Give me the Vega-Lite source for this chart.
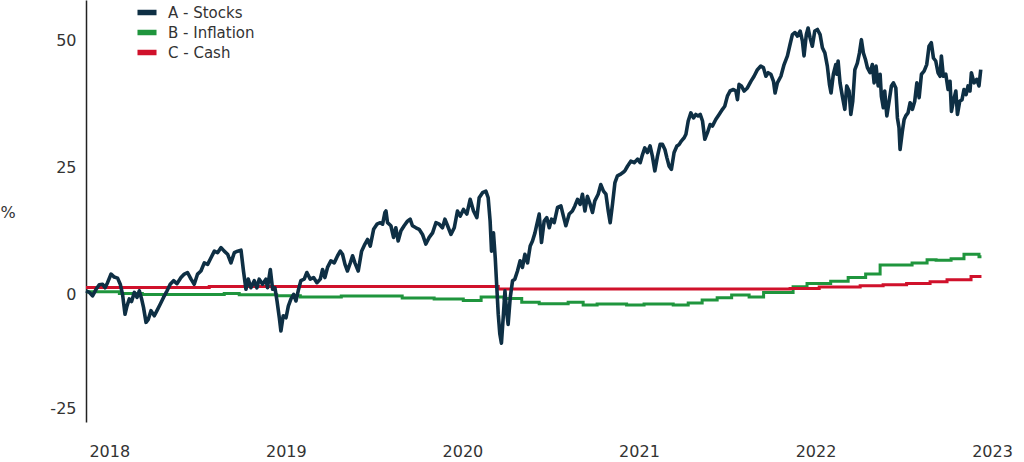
{
  "$schema": "https://vega.github.io/schema/vega-lite/v6.json",
  "width": 920,
  "height": 422,
  "autosize": "none",
  "padding": {"left": 86, "top": 0, "right": 18, "bottom": 40},
  "background": "white",
  "config": {
    "view": {"stroke": null},
    "font": "DejaVu Sans",
    "axis": {"labelFont": "DejaVu Sans", "labelColor": "#333333", "labelFontSize": 16, "titleFont": "DejaVu Sans", "titleColor": "#333333", "grid": false, "ticks": false, "tickSize": 0},
    "legend": {"rowPadding": -4}
  },
  "datasets": {
    "stocks": [
      {"year": 2017.868, "value": 0.8}, {"year": 2017.887, "value": 0.5}, {"year": 2017.905, "value": -0.2}, {"year": 2017.925, "value": 1.1},
      {"year": 2017.943, "value": 2.0}, {"year": 2017.962, "value": 2.1}, {"year": 2017.976, "value": 1.4}, {"year": 2017.990, "value": 2.4},
      {"year": 2018.010, "value": 4.1}, {"year": 2018.028, "value": 3.5}, {"year": 2018.047, "value": 3.3}, {"year": 2018.062, "value": 2.1},
      {"year": 2018.075, "value": 0.1}, {"year": 2018.089, "value": -3.8}, {"year": 2018.100, "value": -2.2}, {"year": 2018.113, "value": -0.8},
      {"year": 2018.126, "value": -1.3}, {"year": 2018.142, "value": 0.5}, {"year": 2018.157, "value": -0.5}, {"year": 2018.170, "value": 0.8},
      {"year": 2018.183, "value": -0.8}, {"year": 2018.194, "value": -2.5}, {"year": 2018.208, "value": -5.4}, {"year": 2018.221, "value": -4.8},
      {"year": 2018.236, "value": -3.1}, {"year": 2018.255, "value": -4.1}, {"year": 2018.270, "value": -3.1}, {"year": 2018.289, "value": -1.8},
      {"year": 2018.307, "value": -0.5}, {"year": 2018.327, "value": 0.8}, {"year": 2018.345, "value": 2.1}, {"year": 2018.364, "value": 2.8},
      {"year": 2018.383, "value": 2.2}, {"year": 2018.406, "value": 3.4}, {"year": 2018.425, "value": 4.1}, {"year": 2018.443, "value": 4.4},
      {"year": 2018.463, "value": 3.1}, {"year": 2018.481, "value": 2.1}, {"year": 2018.500, "value": 4.1}, {"year": 2018.519, "value": 4.7},
      {"year": 2018.538, "value": 6.3}, {"year": 2018.557, "value": 6.0}, {"year": 2018.576, "value": 7.3}, {"year": 2018.595, "value": 8.6},
      {"year": 2018.613, "value": 8.3}, {"year": 2018.633, "value": 9.3}, {"year": 2018.651, "value": 8.6}, {"year": 2018.670, "value": 8.0},
      {"year": 2018.689, "value": 6.3}, {"year": 2018.708, "value": 8.3}, {"year": 2018.727, "value": 8.6}, {"year": 2018.746, "value": 8.8},
      {"year": 2018.760, "value": 4.7}, {"year": 2018.774, "value": 1.1}, {"year": 2018.787, "value": 3.1}, {"year": 2018.802, "value": 1.4},
      {"year": 2018.821, "value": 2.8}, {"year": 2018.836, "value": 1.4}, {"year": 2018.849, "value": 3.1}, {"year": 2018.868, "value": 2.1},
      {"year": 2018.887, "value": 3.1}, {"year": 2018.896, "value": 1.4}, {"year": 2018.912, "value": 5.0}, {"year": 2018.925, "value": 1.1},
      {"year": 2018.938, "value": 1.4}, {"year": 2018.950, "value": -1.2}, {"year": 2018.963, "value": -4.5}, {"year": 2018.972, "value": -7.1},
      {"year": 2018.985, "value": -4.1}, {"year": 2019.001, "value": -4.5}, {"year": 2019.014, "value": -2.2}, {"year": 2019.029, "value": -0.8},
      {"year": 2019.044, "value": 0.1}, {"year": 2019.057, "value": -1.2}, {"year": 2019.070, "value": 0.8}, {"year": 2019.085, "value": 2.8},
      {"year": 2019.104, "value": 3.1}, {"year": 2019.119, "value": 4.4}, {"year": 2019.138, "value": 3.1}, {"year": 2019.157, "value": 3.4},
      {"year": 2019.176, "value": 2.4}, {"year": 2019.195, "value": 3.1}, {"year": 2019.208, "value": 5.0}, {"year": 2019.221, "value": 3.4},
      {"year": 2019.236, "value": 5.4}, {"year": 2019.255, "value": 6.7}, {"year": 2019.274, "value": 6.3}, {"year": 2019.293, "value": 7.7},
      {"year": 2019.308, "value": 8.6}, {"year": 2019.321, "value": 8.0}, {"year": 2019.335, "value": 6.0}, {"year": 2019.349, "value": 4.7},
      {"year": 2019.365, "value": 6.3}, {"year": 2019.378, "value": 7.7}, {"year": 2019.391, "value": 6.3}, {"year": 2019.410, "value": 4.7},
      {"year": 2019.429, "value": 8.6}, {"year": 2019.448, "value": 10.0}, {"year": 2019.463, "value": 10.9}, {"year": 2019.478, "value": 9.6},
      {"year": 2019.497, "value": 12.9}, {"year": 2019.516, "value": 13.9}, {"year": 2019.535, "value": 14.2}, {"year": 2019.548, "value": 13.9},
      {"year": 2019.561, "value": 16.2}, {"year": 2019.567, "value": 16.5}, {"year": 2019.576, "value": 14.2}, {"year": 2019.595, "value": 13.6},
      {"year": 2019.610, "value": 11.3}, {"year": 2019.623, "value": 13.2}, {"year": 2019.636, "value": 10.6}, {"year": 2019.652, "value": 12.6},
      {"year": 2019.670, "value": 13.6}, {"year": 2019.689, "value": 14.5}, {"year": 2019.704, "value": 14.9}, {"year": 2019.717, "value": 13.6},
      {"year": 2019.737, "value": 13.2}, {"year": 2019.755, "value": 12.9}, {"year": 2019.774, "value": 11.9}, {"year": 2019.793, "value": 10.0},
      {"year": 2019.812, "value": 11.3}, {"year": 2019.831, "value": 12.2}, {"year": 2019.850, "value": 14.2}, {"year": 2019.869, "value": 13.9},
      {"year": 2019.887, "value": 13.2}, {"year": 2019.901, "value": 14.9}, {"year": 2019.916, "value": 13.6}, {"year": 2019.935, "value": 11.9},
      {"year": 2019.954, "value": 13.2}, {"year": 2019.972, "value": 16.5}, {"year": 2019.988, "value": 15.5}, {"year": 2020.006, "value": 16.8},
      {"year": 2020.025, "value": 15.9}, {"year": 2020.044, "value": 18.8}, {"year": 2020.063, "value": 16.5}, {"year": 2020.082, "value": 15.2},
      {"year": 2020.095, "value": 19.1}, {"year": 2020.114, "value": 20.1}, {"year": 2020.133, "value": 20.4}, {"year": 2020.146, "value": 19.1},
      {"year": 2020.157, "value": 14.5}, {"year": 2020.165, "value": 8.6}, {"year": 2020.176, "value": 12.2}, {"year": 2020.186, "value": 7.3},
      {"year": 2020.195, "value": 1.4}, {"year": 2020.203, "value": -3.8}, {"year": 2020.212, "value": -7.7}, {"year": 2020.221, "value": -9.5},
      {"year": 2020.231, "value": -4.5}, {"year": 2020.241, "value": 0.8}, {"year": 2020.250, "value": -3.1}, {"year": 2020.259, "value": -5.8},
      {"year": 2020.271, "value": -0.5}, {"year": 2020.284, "value": 2.8}, {"year": 2020.297, "value": 3.1}, {"year": 2020.312, "value": 4.7},
      {"year": 2020.327, "value": 6.7}, {"year": 2020.340, "value": 5.4}, {"year": 2020.354, "value": 8.0}, {"year": 2020.369, "value": 6.3},
      {"year": 2020.384, "value": 9.6}, {"year": 2020.397, "value": 10.6}, {"year": 2020.411, "value": 12.2}, {"year": 2020.422, "value": 13.9},
      {"year": 2020.435, "value": 15.9}, {"year": 2020.448, "value": 10.3}, {"year": 2020.463, "value": 14.5}, {"year": 2020.478, "value": 15.2},
      {"year": 2020.492, "value": 13.2}, {"year": 2020.505, "value": 14.9}, {"year": 2020.520, "value": 14.2}, {"year": 2020.539, "value": 17.2},
      {"year": 2020.558, "value": 17.5}, {"year": 2020.572, "value": 15.5}, {"year": 2020.586, "value": 13.6}, {"year": 2020.605, "value": 15.9},
      {"year": 2020.623, "value": 16.5}, {"year": 2020.637, "value": 17.5}, {"year": 2020.652, "value": 18.8}, {"year": 2020.667, "value": 17.8},
      {"year": 2020.680, "value": 19.8}, {"year": 2020.694, "value": 16.5}, {"year": 2020.708, "value": 19.4}, {"year": 2020.724, "value": 17.8},
      {"year": 2020.737, "value": 16.2}, {"year": 2020.750, "value": 18.5}, {"year": 2020.769, "value": 19.8}, {"year": 2020.784, "value": 21.7},
      {"year": 2020.799, "value": 20.4}, {"year": 2020.813, "value": 19.8}, {"year": 2020.826, "value": 16.5}, {"year": 2020.837, "value": 14.2},
      {"year": 2020.850, "value": 17.8}, {"year": 2020.864, "value": 22.1}, {"year": 2020.878, "value": 23.4}, {"year": 2020.894, "value": 23.7},
      {"year": 2020.907, "value": 24.0}, {"year": 2020.920, "value": 24.4}, {"year": 2020.935, "value": 25.3}, {"year": 2020.954, "value": 26.3},
      {"year": 2020.973, "value": 26.0}, {"year": 2020.992, "value": 26.7}, {"year": 2021.007, "value": 26.0}, {"year": 2021.020, "value": 27.6},
      {"year": 2021.033, "value": 28.9}, {"year": 2021.048, "value": 28.0}, {"year": 2021.063, "value": 29.3}, {"year": 2021.076, "value": 27.3},
      {"year": 2021.090, "value": 24.4}, {"year": 2021.105, "value": 27.3}, {"year": 2021.120, "value": 29.6}, {"year": 2021.133, "value": 29.6},
      {"year": 2021.147, "value": 28.6}, {"year": 2021.158, "value": 27.0}, {"year": 2021.171, "value": 25.3}, {"year": 2021.184, "value": 24.7},
      {"year": 2021.199, "value": 28.0}, {"year": 2021.215, "value": 29.3}, {"year": 2021.228, "value": 29.6}, {"year": 2021.241, "value": 30.3},
      {"year": 2021.256, "value": 30.9}, {"year": 2021.266, "value": 31.6}, {"year": 2021.279, "value": 34.2}, {"year": 2021.294, "value": 35.8},
      {"year": 2021.309, "value": 34.8}, {"year": 2021.322, "value": 35.5}, {"year": 2021.335, "value": 35.2}, {"year": 2021.347, "value": 35.5},
      {"year": 2021.360, "value": 34.2}, {"year": 2021.373, "value": 30.6}, {"year": 2021.388, "value": 31.9}, {"year": 2021.403, "value": 33.5},
      {"year": 2021.416, "value": 33.2}, {"year": 2021.435, "value": 34.5}, {"year": 2021.454, "value": 35.5}, {"year": 2021.473, "value": 36.5},
      {"year": 2021.486, "value": 37.1}, {"year": 2021.501, "value": 39.1}, {"year": 2021.516, "value": 40.1}, {"year": 2021.535, "value": 40.4},
      {"year": 2021.549, "value": 40.1}, {"year": 2021.558, "value": 38.4}, {"year": 2021.567, "value": 41.4}, {"year": 2021.580, "value": 41.1},
      {"year": 2021.596, "value": 40.1}, {"year": 2021.614, "value": 40.7}, {"year": 2021.634, "value": 42.0}, {"year": 2021.652, "value": 43.0},
      {"year": 2021.671, "value": 44.3}, {"year": 2021.690, "value": 45.0}, {"year": 2021.705, "value": 44.7}, {"year": 2021.719, "value": 43.0},
      {"year": 2021.732, "value": 43.7}, {"year": 2021.747, "value": 43.4}, {"year": 2021.762, "value": 42.0}, {"year": 2021.771, "value": 39.7},
      {"year": 2021.784, "value": 41.7}, {"year": 2021.804, "value": 43.0}, {"year": 2021.822, "value": 45.3}, {"year": 2021.841, "value": 47.0},
      {"year": 2021.856, "value": 49.3}, {"year": 2021.869, "value": 51.2}, {"year": 2021.884, "value": 51.6}, {"year": 2021.898, "value": 50.9},
      {"year": 2021.913, "value": 51.9}, {"year": 2021.926, "value": 49.9}, {"year": 2021.935, "value": 47.0}, {"year": 2021.948, "value": 51.2},
      {"year": 2021.958, "value": 52.5}, {"year": 2021.969, "value": 50.6}, {"year": 2021.982, "value": 48.9}, {"year": 2021.996, "value": 51.9},
      {"year": 2022.011, "value": 52.2}, {"year": 2022.026, "value": 51.2}, {"year": 2022.039, "value": 48.6}, {"year": 2022.053, "value": 47.6},
      {"year": 2022.067, "value": 45.0}, {"year": 2022.079, "value": 41.4}, {"year": 2022.088, "value": 39.7}, {"year": 2022.101, "value": 43.4},
      {"year": 2022.115, "value": 45.3}, {"year": 2022.121, "value": 43.4}, {"year": 2022.128, "value": 46.0}, {"year": 2022.139, "value": 41.7},
      {"year": 2022.152, "value": 39.1}, {"year": 2022.166, "value": 36.5}, {"year": 2022.177, "value": 41.1}, {"year": 2022.190, "value": 40.1},
      {"year": 2022.200, "value": 35.5}, {"year": 2022.211, "value": 38.1}, {"year": 2022.223, "value": 44.3}, {"year": 2022.237, "value": 45.6},
      {"year": 2022.249, "value": 47.6}, {"year": 2022.260, "value": 50.2}, {"year": 2022.271, "value": 47.6}, {"year": 2022.283, "value": 46.3},
      {"year": 2022.294, "value": 44.7}, {"year": 2022.309, "value": 43.7}, {"year": 2022.322, "value": 45.3}, {"year": 2022.332, "value": 41.7},
      {"year": 2022.343, "value": 45.0}, {"year": 2022.355, "value": 41.1}, {"year": 2022.366, "value": 43.4}, {"year": 2022.373, "value": 39.1},
      {"year": 2022.384, "value": 36.8}, {"year": 2022.392, "value": 40.1}, {"year": 2022.404, "value": 35.2}, {"year": 2022.417, "value": 38.1},
      {"year": 2022.430, "value": 41.1}, {"year": 2022.441, "value": 41.7}, {"year": 2022.455, "value": 40.7}, {"year": 2022.464, "value": 34.8},
      {"year": 2022.473, "value": 32.9}, {"year": 2022.479, "value": 28.6}, {"year": 2022.492, "value": 32.2}, {"year": 2022.502, "value": 34.5},
      {"year": 2022.511, "value": 35.2}, {"year": 2022.524, "value": 35.8}, {"year": 2022.536, "value": 37.8}, {"year": 2022.549, "value": 36.5},
      {"year": 2022.562, "value": 38.1}, {"year": 2022.574, "value": 41.7}, {"year": 2022.587, "value": 38.8}, {"year": 2022.600, "value": 43.4},
      {"year": 2022.615, "value": 44.0}, {"year": 2022.630, "value": 45.3}, {"year": 2022.643, "value": 48.9}, {"year": 2022.656, "value": 49.6},
      {"year": 2022.668, "value": 46.6}, {"year": 2022.681, "value": 46.0}, {"year": 2022.694, "value": 43.7}, {"year": 2022.706, "value": 43.0},
      {"year": 2022.713, "value": 47.0}, {"year": 2022.724, "value": 43.0}, {"year": 2022.738, "value": 43.4}, {"year": 2022.751, "value": 40.4},
      {"year": 2022.762, "value": 42.0}, {"year": 2022.770, "value": 36.1}, {"year": 2022.781, "value": 38.1}, {"year": 2022.795, "value": 40.1},
      {"year": 2022.804, "value": 35.5}, {"year": 2022.817, "value": 38.1}, {"year": 2022.830, "value": 38.4}, {"year": 2022.841, "value": 40.4},
      {"year": 2022.853, "value": 39.4}, {"year": 2022.864, "value": 41.1}, {"year": 2022.875, "value": 40.1}, {"year": 2022.883, "value": 43.7},
      {"year": 2022.898, "value": 41.7}, {"year": 2022.913, "value": 42.4}, {"year": 2022.926, "value": 41.1}, {"year": 2022.936, "value": 44.3}
    ],
    "inflation": [
      {"year": 2017.868, "value": 0.62}, {"year": 2018.057, "value": 0.29}, {"year": 2018.187, "value": 0.1}, {"year": 2018.651, "value": 0.29},
      {"year": 2018.736, "value": 0.03}, {"year": 2018.948, "value": -0.17}, {"year": 2019.082, "value": -0.43}, {"year": 2019.314, "value": -0.23},
      {"year": 2019.659, "value": -0.62}, {"year": 2019.840, "value": -0.82}, {"year": 2020.005, "value": -1.08}, {"year": 2020.106, "value": -0.43},
      {"year": 2020.236, "value": -0.69}, {"year": 2020.336, "value": -1.47}, {"year": 2020.435, "value": -1.74}, {"year": 2020.599, "value": -1.47},
      {"year": 2020.684, "value": -2.0}, {"year": 2020.763, "value": -1.8}, {"year": 2020.930, "value": -2.0}, {"year": 2021.029, "value": -1.8},
      {"year": 2021.194, "value": -2.0}, {"year": 2021.279, "value": -1.6}, {"year": 2021.358, "value": -1.0}, {"year": 2021.443, "value": -0.56},
      {"year": 2021.525, "value": -0.03}, {"year": 2021.624, "value": -0.43}, {"year": 2021.706, "value": 0.49}, {"year": 2021.873, "value": 1.6},
      {"year": 2021.952, "value": 2.26}, {"year": 2022.086, "value": 2.7}, {"year": 2022.185, "value": 3.4}, {"year": 2022.284, "value": 4.1},
      {"year": 2022.366, "value": 5.86}, {"year": 2022.547, "value": 6.25}, {"year": 2022.632, "value": 6.9}, {"year": 2022.683, "value": 6.8},
      {"year": 2022.768, "value": 7.1}, {"year": 2022.841, "value": 8.0}, {"year": 2022.926, "value": 7.5}, {"year": 2022.940, "value": 7.5}
    ],
    "cash": [
      {"year": 2017.868, "value": 1.45}, {"year": 2018.566, "value": 1.65}, {"year": 2020.203, "value": 1.15}, {"year": 2021.856, "value": 1.28},
      {"year": 2022.021, "value": 1.54}, {"year": 2022.253, "value": 1.8}, {"year": 2022.383, "value": 2.0}, {"year": 2022.516, "value": 2.26},
      {"year": 2022.649, "value": 2.59}, {"year": 2022.745, "value": 2.98}, {"year": 2022.881, "value": 3.63}, {"year": 2022.940, "value": 3.63}
    ]
  },
  "encoding": {
    "x": {
      "field": "year", "type": "quantitative",
      "scale": {"domain": [2017.868, 2023.079], "nice": false, "zero": false},
      "axis": {"title": null, "values": [2018, 2019, 2020, 2021, 2022, 2023], "format": "d", "domain": false, "labelPadding": 21, "labelFlush": false}
    },
    "y": {
      "field": "value", "type": "quantitative",
      "scale": {"domain": [-25, 58], "nice": false, "zero": false},
      "axis": {
        "title": "%", "titleAngle": 0, "titleX": -86, "titleY": 212, "titleAlign": "left", "titleBaseline": "middle",
        "titleFontSize": 16, "titleFontWeight": "normal",
        "values": [-25, 0, 25, 50], "labelExpr": "'' + datum.value", "labelPadding": 10, "labelFlush": true, "labelFlushOffset": -6,
        "domain": true, "domainColor": "#222222", "domainWidth": 1.5
      }
    },
    "color": {
      "scale": {"domain": ["A - Stocks", "B - Inflation", "C - Cash"], "range": ["#0e2f44", "#1f953d", "#d0112b"]},
      "legend": {
        "title": null, "orient": "none", "legendX": 52.5, "legendY": 4, "padding": 0,
        "symbolType": "M-1.73,0H1.73", "symbolSize": 121, "symbolStrokeWidth": 5.5,
        "labelFont": "DejaVu Sans", "labelFontSize": 15, "labelColor": "#333333", "labelOffset": 12.5
      }
    }
  },
  "layer": [
    {
      "data": {"name": "inflation"},
      "mark": {"type": "line", "interpolate": "step-after", "strokeWidth": 3},
      "encoding": {"color": {"datum": "B - Inflation"}}
    },
    {
      "data": {"name": "cash"},
      "mark": {"type": "line", "interpolate": "step-after", "strokeWidth": 3},
      "encoding": {"color": {"datum": "C - Cash"}}
    },
    {
      "data": {"name": "stocks"},
      "mark": {"type": "line", "strokeWidth": 3.6, "strokeJoin": "round"},
      "encoding": {"color": {"datum": "A - Stocks"}}
    }
  ]
}
